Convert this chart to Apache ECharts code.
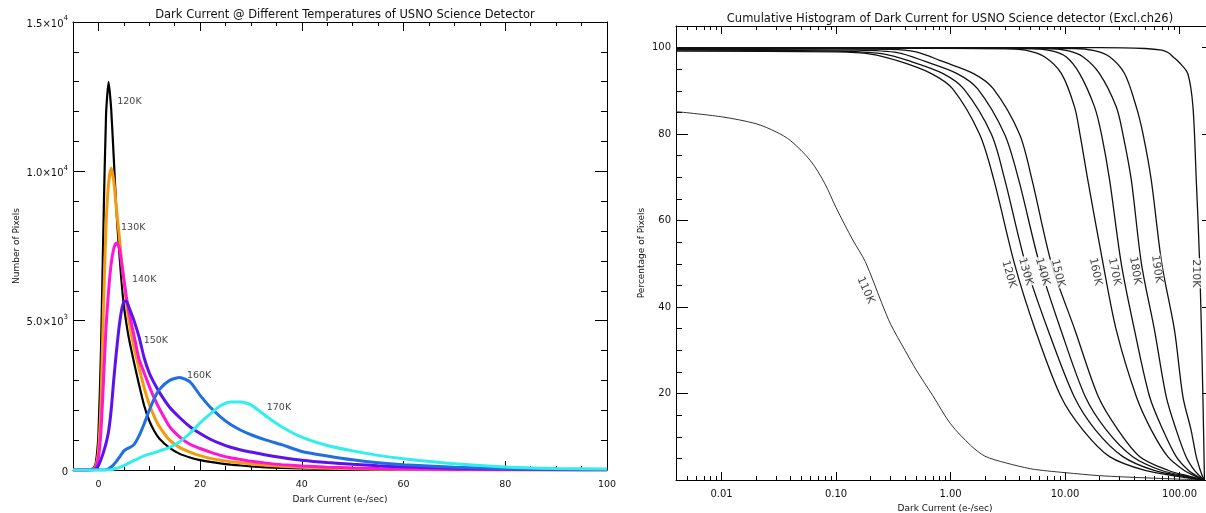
<!DOCTYPE html>
<html>
<head>
<meta charset="utf-8">
<style>
  html, body { margin: 0; padding: 0; background: #fff; }
  #chart { width: 1206px; height: 513px; }
</style>
<script src="https://cdn.jsdelivr.net/npm/echarts@6/dist/echarts.min.js"></script>
</head>
<body>
<div id="chart"></div>
<script>
// ---------- left panel : histogram of dark current per temperature
const histX = [-5, -3, -2, -1, -0.5, 0, 0.5, 1, 1.5, 2, 2.5, 3, 3.5, 4, 4.5, 5, 5.5, 6, 7, 8, 9, 10,
  11, 12, 14, 16, 18, 20, 22, 24, 26, 28, 30, 33, 36, 40, 45, 50, 55, 60, 70, 80, 90, 100];
const hist120 = [0, 0, 10, 60, 250, 1200, 4000, 8300, 11900, 13000, 12100, 10500, 8800, 7500, 6400, 5500, 4900, 4400, 3600, 2850,
  2150, 1650, 1300, 1050, 740, 540, 420, 330, 270, 220, 180, 150, 120, 90, 70, 50, 35, 22, 15, 10, 5, 2, 1, 0];
const hist130 = [0, 0, 5, 40, 150, 600, 2200, 5500, 8200, 9600, 10100, 9700, 8800, 8000, 7100, 6300, 5600, 5000, 4100, 3400,
  2750, 2200, 1780, 1450, 1000, 750, 600, 480, 390, 330, 280, 240, 200, 160, 125, 90, 60, 40, 28, 20, 10, 5, 2, 1];
const hist140 = [0, 0, 5, 30, 100, 400, 1300, 3000, 4800, 6000, 6900, 7400, 7600, 7500, 7000, 6400, 5800, 5300, 4500, 3700,
  3250, 2800, 2400, 2050, 1450, 1100, 860, 720, 600, 490, 410, 350, 290, 230, 180, 135, 95, 68, 48, 34, 16, 7, 3, 1];
const hist150 = [0, 0, 0, 10, 40, 150, 350, 600, 900, 1300, 2000, 3000, 3900, 4700, 5300, 5650, 5650, 5450, 5000, 4450,
  3750, 3250, 2900, 2600, 2100, 1750, 1450, 1220, 1030, 880, 760, 670, 600, 500, 420, 330, 250, 190, 140, 105, 60, 30, 15, 8];
const hist160 = [0, 0, 0, 0, 0, 0, 0, 0, 10, 40, 100, 180, 280, 400, 520, 640, 700, 740, 850, 1150,
  1550, 2000, 2400, 2700, 3000, 3100, 2950, 2500, 2100, 1780, 1520, 1330, 1180, 1000, 850, 620, 470, 340, 240, 175, 90, 45, 25, 15];
const hist170 = [0, 0, 0, 0, 0, 0, 0, 0, 0, 0, 10, 30, 55, 80, 115, 150, 190, 230, 320, 400,
  470, 530, 580, 640, 760, 950, 1230, 1580, 1880, 2150, 2280, 2280, 2180, 1800, 1450, 1100, 820, 640, 490, 380, 210, 100, 50, 30];
const histNames = ['120K', '130K', '140K', '150K', '160K', '170K'];
const histColors = ['#000000', '#f59a0c', '#ff14d8', '#5a12ee', '#1f6fe2', '#33eeee'];
const histLabelX = [3.7, 4.45, 6.6, 8.9, 17.4, 33.1];
const histLabelY = [12350, 8120, 6370, 4325, 3150, 2090];

const histTickX = [0, 20, 40, 60, 80, 100];
const histTickY = [0, 5000, 10000, 15000];
const histTickYText = ['0', '5.0×10^3', '1.0×10^4', '1.5×10^4'];

// ---------- right panel : cumulative histograms (percent of pixels above a dark current)
const cum110X = [0.004, 0.01, 0.02, 0.03, 0.04, 0.06, 0.08, 0.1, 0.14, 0.18, 0.25, 0.3, 0.4, 0.5, 0.7, 1, 1.5, 2, 3, 5, 7, 10, 20, 50, 100, 165];
const cum110Y = [85.2, 84.0, 82.4, 80.5, 78.5, 73.8, 68.5, 63.0, 55.5, 50.5, 41.0, 36.0, 30.0, 25.5, 19.5, 13.0, 8.0, 5.5, 4.0, 2.6, 2.1, 1.7, 1.0, 0.5, 0.2, 0];
const cum120X = [0.004, 0.1, 0.2, 0.36, 0.68, 1.04, 1.79, 2.39, 3.62, 5.5, 9.2, 14.3, 24.5, 50, 100, 165];
const cum120Y = [99.2, 99.0, 98.5, 96.8, 94, 90.5, 80, 69.4, 50, 34.7, 19.3, 11.6, 5.4, 2.2, 0.8, 0];
const cum130X = [0.004, 0.1, 0.25, 0.45, 0.86, 1.30, 2.27, 2.98, 4.52, 7.1, 12.0, 18.4, 32, 60, 110, 165];
const cum130Y = [99.4, 99.2, 98.6, 96.8, 94, 90.5, 80, 69.4, 50, 34.7, 19.3, 11.6, 5.4, 2.2, 0.8, 0];
const cum140X = [0.004, 0.15, 0.35, 0.60, 1.14, 1.72, 2.96, 3.94, 5.98, 9.2, 15.0, 22.9, 39, 70, 120, 165];
const cum140Y = [99.6, 99.4, 98.8, 96.8, 94, 90.5, 80, 69.4, 50, 34.7, 19.3, 11.6, 5.4, 2.2, 0.8, 0];
const cum150X = [0.004, 0.3, 0.5, 0.85, 1.59, 2.36, 4.0, 5.15, 7.62, 12.2, 19.5, 29, 45, 80, 125, 165];
const cum150Y = [99.8, 99.6, 99.0, 96.8, 94, 90.5, 80, 69.4, 50, 34.7, 19.3, 11.6, 5.4, 2.2, 0.8, 0];
const cum160X = [0.004, 3, 4.5, 6.6, 9.3, 12.1, 13.5, 15.8, 21.5, 28, 41.9, 56.6, 79, 110, 140, 165];
const cum160Y = [99.9, 99.8, 99.4, 97.9, 94, 86.3, 80, 69.4, 50, 34.7, 19.3, 11.6, 5.4, 2.2, 0.8, 0];
const cum170X = [0.004, 5, 7.5, 10.2, 13.4, 18.1, 20.8, 24.5, 31, 40.4, 54.7, 71.5, 93.5, 120, 145, 165];
const cum170Y = [99.9, 99.8, 99.3, 97.9, 94, 86.3, 80, 69.4, 50, 34.7, 19.3, 11.6, 5.4, 2.2, 0.8, 0];
const cum180X = [0.004, 7, 10.5, 14.3, 20, 28, 32, 37.9, 46.5, 60.4, 76.5, 93.5, 114, 135, 152, 165];
const cum180Y = [99.95, 99.8, 99.3, 97.9, 94, 86.3, 80, 69.4, 50, 34.7, 19.3, 11.6, 5.4, 2.2, 0.8, 0];
const cum190X = [0.004, 12, 18, 24.5, 33.1, 41.9, 48, 56.6, 70, 90.3, 107, 126, 140, 152, 159, 165];
const cum190Y = [100, 99.8, 99.3, 97.9, 94, 86.3, 80, 69.4, 50, 34.7, 19.3, 11.6, 5.4, 2.2, 0.8, 0];
const cum210X = [0.004, 20, 50, 70, 80, 87.5, 100, 118, 131, 140, 150, 160, 165];
const cum210Y = [100, 100, 99.8, 99.4, 98.8, 97.9, 96.5, 94, 86.3, 69.4, 50, 19.3, 0];
const cumNames = ['110K', '120K', '130K', '140K', '150K', '160K', '170K', '180K', '190K', '210K'];
const cumLabelX = [0.181, 3.23, 4.52, 6.33, 8.65, 18.4, 27.0, 41.0, 63.4, 138];
const cumLabelY = [43.9, 47.6, 48.2, 48.2, 47.8, 48.2, 48.2, 48.4, 48.8, 47.8];
const cumLabelRot = [-66, -74, -74, -74, -76, -78, -78, -80, -82, -90];

const cumTickX = [0.01, 0.1, 1, 10, 100];
const cumTickXText = ['0.01', '0.10', '1.00', '10.00', '100.00'];
const cumTickY = [20, 40, 60, 80, 100];

// minor tick positions
const histMinorX = [], histMinorY = [], cumMinorY = [], cumMinorX = [];
for (let v = 0; v <= 100; v += 5) histMinorX.push(v);
for (let v = 0; v <= 15000; v += 1000) histMinorY.push(v);
for (let v = 0; v <= 105; v += 5) cumMinorY.push(v);
[0.001, 0.01, 0.1, 1, 10, 100].forEach(d => {
  for (let k = 2; k <= 9; k++) cumMinorX.push(+(k * d).toPrecision(3));
});

const FONT = 'DejaVu Sans';
const INK = '#111';

// one side of a frame: an axis with the line + minor ticks and an overlay with major ticks
function sideAxes(grid, type, min, max, pos, minor, major, minorLen, majorLen) {
  const base = {
    gridIndex: grid, type: type, min: min, max: max, position: pos,
    splitLine: { show: false }, axisLabel: { show: false }
  };
  if (type === 'log') base.logBase = 10;
  return [
    Object.assign({}, base, {
      axisLine: { show: true, onZero: false, lineStyle: { color: '#000', width: 1 } },
      axisTick: { show: true, inside: true, length: minorLen, customValues: minor, lineStyle: { color: '#000', width: 1 } }
    }),
    Object.assign({}, base, {
      axisLine: { show: false, onZero: false },
      axisTick: { show: true, inside: true, length: majorLen, customValues: major, lineStyle: { color: '#000', width: 1 } }
    })
  ];
}

const xAxes = [].concat(
  sideAxes(0, 'value', -5, 100, 'bottom', histMinorX, histTickX, 4, 9),
  sideAxes(0, 'value', -5, 100, 'top', histMinorX, histTickX, 4, 9),
  sideAxes(1, 'log', 0.004, 200, 'bottom', cumMinorX, cumTickX, 4, 8),
  sideAxes(1, 'log', 0.004, 200, 'top', cumMinorX, cumTickX, 4, 8)
);
const yAxes = [].concat(
  sideAxes(0, 'value', 0, 15000, 'left', histMinorY, histTickY, 6, 12),
  sideAxes(0, 'value', 0, 15000, 'right', histMinorY, histTickY, 6, 12),
  sideAxes(1, 'value', 0, 105, 'left', cumMinorY, [0].concat(cumTickY), 6, 12),
  sideAxes(1, 'value', 0, 105, 'right', cumMinorY, [0].concat(cumTickY), 6, 12)
);

const nameStyle = { fontFamily: FONT, fontSize: 9, color: INK };

Object.assign(xAxes[0], {
  axisLabel: { show: true, customValues: histTickX, margin: 10, fontFamily: FONT, fontSize: 9.5, color: INK },
  name: 'Dark Current (e-/sec)', nameLocation: 'middle', nameGap: 23, nameTextStyle: nameStyle
});
Object.assign(xAxes[4], {
  axisLabel: {
    show: true, customValues: cumTickX, margin: 9, fontFamily: FONT, fontSize: 10, color: INK,
    formatter: v => {
      let best = 0;
      cumTickX.forEach((t, i) => { if (Math.abs(Math.log10(t) - Math.log10(v)) < Math.abs(Math.log10(cumTickX[best]) - Math.log10(v))) best = i; });
      return cumTickXText[best];
    }
  },
  name: 'Dark Current (e-/sec)', nameLocation: 'middle', nameGap: 20, nameTextStyle: nameStyle
});
Object.assign(yAxes[0], {
  axisLabel: {
    show: true, customValues: histTickY, margin: 5, color: INK,
    formatter: v => {
      const t = histTickYText[histTickY.indexOf(v)] || '';
      const p = t.split('^');
      return p.length > 1 ? '{m|' + p[0] + '}{s|' + p[1] + '}' : '{m|' + t + '}';
    },
    rich: {
      m: { fontFamily: FONT, fontSize: 10, color: INK, lineHeight: 14, verticalAlign: 'bottom' },
      s: { fontFamily: FONT, fontSize: 7, color: INK, lineHeight: 14, verticalAlign: 'top' }
    }
  },
  name: 'Number of Pixels', nameLocation: 'middle', nameGap: 52, nameTextStyle: nameStyle
});
Object.assign(yAxes[4], {
  axisLabel: { show: true, customValues: cumTickY, margin: 5, fontFamily: FONT, fontSize: 10, color: INK },
  name: 'Percentage of Pixels', nameLocation: 'middle', nameGap: 30, nameTextStyle: nameStyle
});

const histSets = [hist120, hist130, hist140, hist150, hist160, hist170];
const cumSets = [[cum110X, cum110Y], [cum120X, cum120Y], [cum130X, cum130Y], [cum140X, cum140Y], [cum150X, cum150Y],
  [cum160X, cum160Y], [cum170X, cum170Y], [cum180X, cum180Y], [cum190X, cum190Y], [cum210X, cum210Y]];

const series = [];
histSets.forEach((ys, i) => {
  series.push({
    name: histNames[i], type: 'line', xAxisIndex: 0, yAxisIndex: 0,
    data: histX.map((x, j) => [x, ys[j]]),
    showSymbol: false, smooth: 0.2, animation: false,
    lineStyle: { color: histColors[i], width: i === 0 ? 2.2 : 3 }
  });
});
series.push({
  type: 'scatter', xAxisIndex: 0, yAxisIndex: 0, symbolSize: 0.1, animation: false, silent: true,
  itemStyle: { color: 'transparent' },
  data: histLabelX.map((x, i) => ({ value: [x, histLabelY[i]], name: histNames[i] })),
  label: { show: true, position: 'inside', align: 'left', formatter: p => p.name, fontFamily: FONT, fontSize: 9.5, color: INK }
});
cumSets.forEach((s, i) => {
  series.push({
    name: cumNames[i], type: 'line', xAxisIndex: 4, yAxisIndex: 4,
    data: s[0].map((x, j) => [x, s[1][j]]),
    showSymbol: false, smooth: 0.3, animation: false,
    lineStyle: { color: i === 0 ? '#333' : '#111', width: i === 0 ? 1 : 1.3 }
  });
});
series.push({
  type: 'scatter', xAxisIndex: 4, yAxisIndex: 4, symbolSize: 0.1, animation: false, silent: true, z: 5,
  itemStyle: { color: 'transparent' },
  data: cumLabelX.map((x, i) => ({
    value: [x, cumLabelY[i]], name: cumNames[i],
    label: { rotate: cumLabelRot[i] }
  })),
  label: {
    show: true, position: 'inside', formatter: p => p.name, fontFamily: FONT, fontSize: 11, color: INK,
    backgroundColor: '#fff', padding: [0, 1]
  }
});

const chart = echarts.init(document.getElementById('chart'), null, { renderer: 'canvas' });
chart.setOption({
  backgroundColor: '#fff',
  animation: false,
  title: [
    { text: 'Dark Current @ Different Temperatures of USNO Science Detector', left: 340, top: 4, textAlign: 'center',
      textStyle: { fontFamily: FONT, fontSize: 11.5, fontWeight: 'normal', color: INK } },
    { text: 'Cumulative Histogram of Dark Current for USNO Science detector (Excl.ch26)', left: 945, top: 8, textAlign: 'center',
      textStyle: { fontFamily: FONT, fontSize: 11.5, fontWeight: 'normal', color: INK } }
  ],
  grid: [
    { left: 73, top: 22, width: 534, height: 448, containLabel: false, outerBoundsMode: 'none' },
    { left: 676, top: 26, width: 538, height: 454, containLabel: false, outerBoundsMode: 'none' }
  ],
  xAxis: xAxes,
  yAxis: yAxes,
  series: series
});
</script>
</body>
</html>
